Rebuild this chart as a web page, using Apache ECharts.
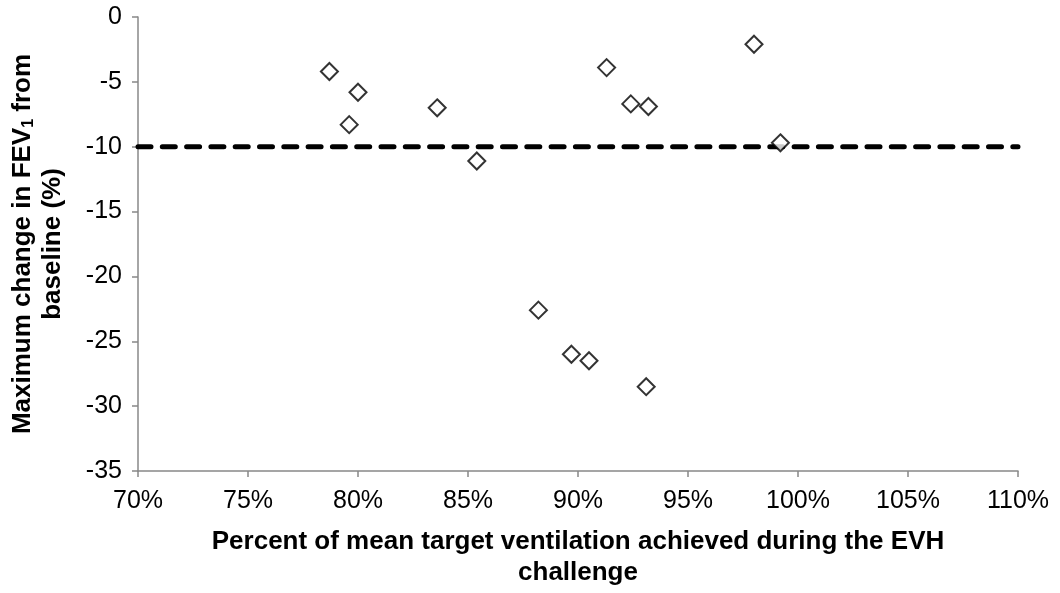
<!DOCTYPE html>
<html>
<head>
<meta charset="utf-8">
<script src="https://cdn.jsdelivr.net/npm/echarts@6/dist/echarts.min.js"></script>
<style>
  html, body { margin: 0; background: #fff; }
  #chart { width: 1060px; height: 593px; }
</style>
</head>
<body>
<div id="chart"></div>
<script>
// percent of mean target ventilation achieved (x) vs max change in FEV1 (y)
const ventilation = [78.7, 79.6, 80.0, 83.6, 85.4, 88.2, 89.7, 90.5, 91.3, 92.4, 93.2, 93.1, 98.0, 99.2]
const fevChange = [-4.2, -8.3, -5.8, -7.0, -11.1, -22.6, -26.0, -26.5, -3.9, -6.7, -6.9, -28.5, -2.1, -9.7]
const threshold = -10
const xRange = [70, 110]
const yRange = [-35, 0]

const FONT = 'Liberation Sans, Arial, sans-serif'
const AXIS_GREY = '#888888'

const chart = echarts.init(document.getElementById('chart'), null, { renderer: 'canvas' })

chart.setOption({
  backgroundColor: '#fff',
  animation: false,
  grid: { left: 138, right: 42, top: 17, bottom: 116 },
  xAxis: {
    type: 'value',
    min: xRange[0],
    max: xRange[1],
    interval: 5,
    splitLine: { show: false },
    axisLine: { onZero: false, lineStyle: { color: AXIS_GREY, width: 1.5 } },
    axisTick: { show: true, length: 6, lineStyle: { color: AXIS_GREY, width: 1.5 } },
    axisLabel: {
      color: '#000', fontFamily: FONT, fontSize: 25, margin: 18,
      formatter: v => v + '%'
    },
    name: 'Percent of mean target ventilation achieved during the EVH\nchallenge',
    nameLocation: 'middle',
    nameGap: 55,
    nameTextStyle: {
      fontFamily: FONT, fontSize: 26, fontWeight: 'bold', color: '#000', lineHeight: 31
    }
  },
  yAxis: {
    type: 'value',
    min: yRange[0],
    max: yRange[1],
    interval: 5,
    splitLine: { show: false },
    axisLine: { show: true, onZero: false, lineStyle: { color: AXIS_GREY, width: 1.5 } },
    axisTick: { show: true, length: 6, lineStyle: { color: AXIS_GREY, width: 1.5 } },
    axisLabel: { color: '#000', fontFamily: FONT, fontSize: 25, margin: 16 },
    name: '{t|Maximum change in FEV}{s|1}{t| from}\n{t|baseline (%)}',
    nameLocation: 'middle',
    nameRotate: 90,
    nameGap: 70,
    nameTextStyle: {
      align: 'center',
      rich: {
        t: { fontFamily: FONT, fontSize: 26, fontWeight: 'bold', color: '#000', lineHeight: 30 },
        s: { fontFamily: FONT, fontSize: 16, fontWeight: 'bold', color: '#000', lineHeight: 30, padding: [12, 0, 0, 0] }
      }
    }
  },
  series: [
    {
      // -10% threshold
      type: 'line',
      z: 1,
      silent: true,
      symbol: 'none',
      data: xRange.map(x => [x, threshold]),
      lineStyle: { color: '#000', width: 5, type: [13, 11.3], cap: 'round' }
    },
    {
      type: 'scatter',
      z: 3,
      symbol: 'diamond',
      symbolSize: 17,
      data: ventilation.map((x, i) => [x, fevChange[i]]),
      itemStyle: { color: '#fff', borderColor: '#000', borderWidth: 2 }
    }
  ]
})
</script>
</body>
</html>
